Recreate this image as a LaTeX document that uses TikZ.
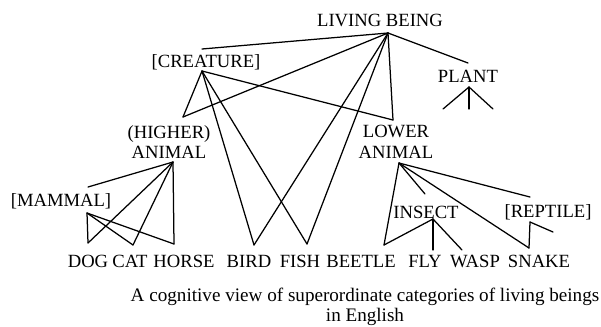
\documentclass[tikz,border=0pt]{standalone}
\usepackage{fontspec}
\setmainfont{Liberation Serif}
\usepackage{tikz}
\usetikzlibrary{positioning}

\begin{document}
\begin{tikzpicture}[
  x=1bp, y=-1bp,
  word/.style={inner sep=0pt, font=\fontsize{18.7}{21}\selectfont, align=center},
  legend/.style={inner sep=0pt, font=\fontsize{19.2}{20}\selectfont, align=center},
  every edge/.style={draw, line width=1.25bp, line cap=round, line join=round},
]
  \useasboundingbox (0,0) rectangle (601,326);

  % Categories
  \node[word] (living)   at (380,20)  {LIVING BEING};
  \node[word] (plant)    at (468,76)  {PLANT};
  \node[word] (creature) at (206,62)  {[CREATURE]};
  \node[word] (higher)   at (169,142) {(HIGHER)\\ANIMAL};
  \node[word] (lower)    at (396,142) {LOWER\\ANIMAL};
  \node[word] (mammal)   at (61,201)  {[MAMMAL]};
  \node[word] (insect)   at (426,212) {INSECT};
  \node[word] (reptile)  at (548,212) {[REPTILE]};

  % Basic level
  \node[word] (dog)    at (88,261)  {DOG};
  \node[word] (cat)    at (130,261) {CAT};
  \node[word] (horse)  at (184,261) {HORSE};
  \node[word] (bird)   at (249,261) {BIRD};
  \node[word] (fish)   at (300,261) {FISH};
  \node[word] (beetle) at (361,261) {BEETLE};
  \node[word] (fly)    at (425,261) {FLY};
  \node[word] (wasp)   at (475,261) {WASP};
  \node[word] (snake)  at (539,261) {SNAKE};

  \node[legend] (caption) at (365,307)
    {A cognitive view of superordinate categories of living beings\\in English};

  % Joints
  \coordinate (livingA) at (388,33);
  \coordinate (plantIn) at (468,63);
  \coordinate (plantA)  at (469,87);
  \coordinate (plantL)  at (443,109);
  \coordinate (plantM)  at (469,109);
  \coordinate (plantR)  at (493,109);
  \coordinate (creIn)   at (202,49);
  \coordinate (creA)    at (202,71);
  \coordinate (highV)   at (183,117);
  \coordinate (lowV)    at (393,120);
  \coordinate (birdV)   at (254,245);
  \coordinate (fishV)   at (307,244);
  \coordinate (highA)   at (173,162);
  \coordinate (mamIn)   at (88,187);
  \coordinate (mamA)    at (87,213);
  \coordinate (dogV)    at (88,243);
  \coordinate (catV)    at (133,245);
  \coordinate (horseV)  at (174,244);
  \coordinate (lowA)    at (399,163);
  \coordinate (insIn)   at (425,194);
  \coordinate (repIn)   at (530,197);
  \coordinate (beetleV) at (384,245);
  \coordinate (insA)    at (433,219);
  \coordinate (flyV)    at (433,250);
  \coordinate (waspV)   at (462,250);
  \coordinate (snakeV)  at (529,248);
  \coordinate (repA)    at (530,222);
  \coordinate (repR)    at (553,232);

  % Links
  \path (livingA) edge (creIn) edge (highV) edge (lowV)
                  edge (birdV) edge (fishV) edge (plantIn);
  \path (creA) edge (highV) edge (lowV) edge (birdV) edge (fishV);
  \path (plantA) edge (plantL) edge (plantM) edge (plantR);
  \path (highA) edge (mamIn) edge (dogV) edge (catV) edge (horseV);
  \path (mamA) edge (dogV) edge (catV) edge (horseV);
  \path (lowA) edge (beetleV) edge (insIn) edge (snakeV) edge (repIn);
  \path (insA) edge (beetleV) edge (flyV) edge (waspV);
  \path (repA) edge (snakeV) edge (repR);
\end{tikzpicture}
\end{document}
